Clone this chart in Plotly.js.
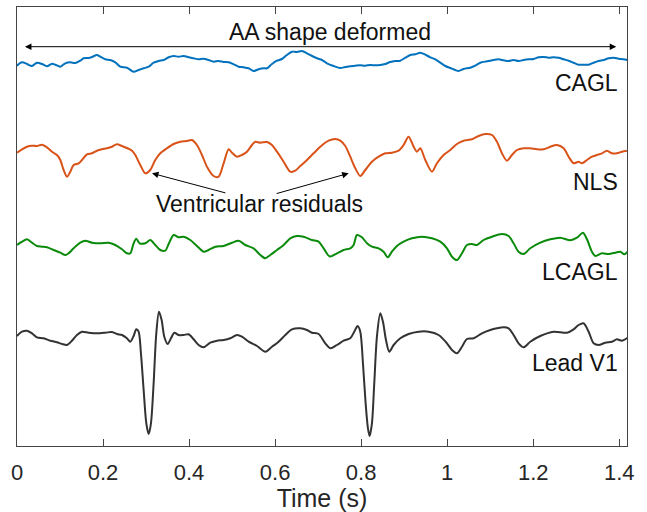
<!DOCTYPE html>
<html>
<head>
<meta charset="utf-8">
<script src="https://cdn.plot.ly/plotly-3.0.1.min.js"></script>
<style>html,body{margin:0;padding:0;background:#fff;}#chart{width:647px;height:512px;}</style>
</head>
<body>
<div id="chart"></div>
<script>
// Time axis ticks
var tickValues = [0, 0.2, 0.4, 0.6, 0.8, 1, 1.2, 1.4];
var tickLabels = ["0", "0.2", "0.4", "0.6", "0.8", "1", "1.2", "1.4"];
var seriesNames = ["CAGL", "NLS", "LCAGL", "Lead V1"];

// CAGL (stacked display units)
var tCAGL = [0,0.0116,0.0232,0.0348,0.0464,0.0580,0.0697,0.0813,0.0890,0.1007,0.1123,0.1239,0.1355,0.1471,0.1549,0.1665,0.1743,0.1859,0.1936,0.2053,0.2169,0.2285,0.2401,0.2556,0.2711,0.2827,0.2944,0.3060,0.3176,0.3292,0.3408,0.3525,0.3641,0.3757,0.3873,0.3990,0.4106,0.4222,0.4338,0.4454,0.4571,0.4687,0.4803,0.4919,0.5036,0.5152,0.5268,0.5384,0.5500,0.5617,0.5733,0.5810,0.5927,0.6043,0.6159,0.6275,0.6392,0.6508,0.6624,0.6740,0.6857,0.6973,0.7089,0.7205,0.7360,0.7515,0.7631,0.7748,0.7864,0.7980,0.8096,0.8212,0.8329,0.8445,0.8561,0.8677,0.8794,0.8910,0.9026,0.9142,0.9258,0.9375,0.9491,0.9607,0.9723,0.9840,0.9956,1.0072,1.0188,1.0266,1.0382,1.0537,1.0653,1.0769,1.0924,1.1079,1.1196,1.1312,1.1428,1.1544,1.1660,1.1777,1.1893,1.2009,1.2125,1.2242,1.2358,1.2474,1.2590,1.2707,1.2823,1.2939,1.3055,1.3171,1.3288,1.3404,1.3520,1.3636,1.3753,1.3869,1.3985,1.4101,1.4194];
var vCAGL = [380.3,383.7,382,380,383.3,382,379.7,382.3,381.3,379.3,382.7,383.7,383,385.3,387.7,388,389,391,389.3,386.7,386,383.7,379.3,378.3,374.3,376,377.7,379.3,383.3,385,386,388.7,390,389.3,390,388.7,387.7,386.7,387.3,386,384.3,385,384,383.7,381.7,379.3,378.7,377.7,375,376.7,377.7,377.7,382,385.3,387,391,394.3,394,395,392.7,390,387.7,386,382.7,380,378,379,379.7,380.3,380.7,380.3,381,380.7,381,382,384,385,385.3,388.3,391,391.7,393.3,391.3,388.7,386.7,383.3,380,378,376,375,377,378.3,380.3,383.3,384.7,386,386.7,385.7,385,386,385,386,386.7,387,388.7,389,388.3,388.7,388.3,386.7,385.3,383.3,381.3,381.3,381.3,383.3,385,386,387.7,388.3,387.3,386.7,386];

// NLS
var tNLS = [0,0.0116,0.0232,0.0348,0.0464,0.0580,0.0697,0.0813,0.0929,0.1007,0.1084,0.1162,0.1239,0.1316,0.1433,0.1510,0.1626,0.1743,0.1859,0.1975,0.2091,0.2208,0.2324,0.2440,0.2556,0.2673,0.2750,0.2866,0.2982,0.3098,0.3215,0.3331,0.3486,0.3641,0.3796,0.3951,0.4067,0.4183,0.4300,0.4416,0.4571,0.4687,0.4803,0.4919,0.4997,0.5113,0.5229,0.5346,0.5462,0.5539,0.5655,0.5810,0.5927,0.6043,0.6198,0.6353,0.6469,0.6585,0.6740,0.6895,0.7050,0.7244,0.7399,0.7515,0.7631,0.7748,0.7864,0.7980,0.8096,0.8251,0.8406,0.8561,0.8716,0.8871,0.8987,0.9103,0.9220,0.9297,0.9375,0.9491,0.9646,0.9762,0.9917,1.0072,1.0227,1.0382,1.0576,1.0731,1.0886,1.1041,1.1157,1.1273,1.1390,1.1506,1.1622,1.1777,1.1932,1.2087,1.2242,1.2397,1.2552,1.2707,1.2823,1.2939,1.3055,1.3133,1.3249,1.3365,1.3481,1.3598,1.3714,1.3830,1.3946,1.4062,1.4178];
var vNLS = [293.3,296.7,299.3,300.3,300,301.3,298.7,294.3,291,286,276,269.3,274.3,281,282.7,286,291.7,292.7,295.3,296.7,297.7,299.3,301.7,300,298,295.3,291,281,272.7,276,286,292.7,297.7,302,304.3,305,306,301,291,279.3,270,269.3,282.7,296.7,293.3,289.3,291,294.3,301,304.3,303.3,304,301,294.3,284.3,274.3,275.3,280,286,292.7,299.3,305.3,307,305.3,300,289.3,277.7,270,276,284.3,289.3,292.7,293.3,295.3,301,309.3,299.3,294.3,297.7,286,274.3,282.7,291,296,302,305.3,306.7,310,312,311,304.3,292.7,285.3,291,296,297.7,297.7,296.7,296.7,299.3,301,297.7,289.3,282.7,284.3,282.7,286,289.3,291,292.7,295.3,292.7,292.7,294.3,295.3];

// LCAGL
var tLCAGL = [0,0.0116,0.0232,0.0348,0.0464,0.0580,0.0697,0.0852,0.1007,0.1123,0.1200,0.1316,0.1471,0.1588,0.1743,0.1936,0.2130,0.2285,0.2440,0.2556,0.2634,0.2711,0.2773,0.2850,0.2982,0.3098,0.3215,0.3331,0.3447,0.3525,0.3641,0.3757,0.3873,0.4028,0.4183,0.4338,0.4454,0.4610,0.4803,0.4997,0.5152,0.5307,0.5500,0.5655,0.5772,0.5888,0.6043,0.6198,0.6353,0.6508,0.6663,0.6857,0.7012,0.7128,0.7270,0.7438,0.7593,0.7748,0.7825,0.7903,0.8019,0.8135,0.8251,0.8406,0.8522,0.8615,0.8716,0.8832,0.8987,0.9181,0.9414,0.9646,0.9840,0.9995,1.0111,1.0227,1.0343,1.0459,1.0576,1.0692,1.0847,1.1041,1.1273,1.1428,1.1544,1.1660,1.1777,1.1932,1.2164,1.2397,1.2629,1.2862,1.3017,1.3156,1.3249,1.3365,1.3443,1.3598,1.3753,1.3908,1.4024,1.4117,1.4194];
var vLCAGL = [201,204.3,206.7,203.3,200,199.3,198.7,196,193.3,191,192.7,197.7,203.3,205.3,203.3,202.7,203.3,201,196.7,192.7,192.7,202.7,207.3,202.7,202.7,206,201,196,195.3,202,211,208.7,209.3,206,200,194.3,196,199.3,200,203.3,205.3,201,197.7,191,187.7,191,196,201,207.7,210,209.3,206,204.3,197.7,189.5,192.7,196,197.7,201,211,208.7,202.7,199.3,197.7,194.3,188.7,194.3,200,204.3,207.7,209.3,207.7,204.3,197.7,189.3,186,192.7,201,202,201,206,209.3,212,210,202.7,194.3,192,197.7,203.3,206.7,208.3,205.7,208.3,213.3,206.7,194.3,190,192.7,192,193.3,194.3,191.7,194.3];

// Lead V1
var tV1 = [0,0.0116,0.0232,0.0348,0.0464,0.0619,0.0774,0.0929,0.1046,0.1162,0.1278,0.1394,0.1510,0.1665,0.1859,0.2053,0.2208,0.2324,0.2440,0.2556,0.2634,0.2711,0.2773,0.2827,0.2881,0.2944,0.3006,0.3060,0.3114,0.3176,0.3238,0.3300,0.3362,0.3424,0.3502,0.3579,0.3657,0.3757,0.3873,0.3990,0.4106,0.4222,0.4338,0.4493,0.4648,0.4803,0.4958,0.5113,0.5229,0.5384,0.5578,0.5772,0.5927,0.6082,0.6237,0.6392,0.6585,0.6740,0.6857,0.7012,0.7166,0.7283,0.7438,0.7593,0.7748,0.7840,0.7918,0.7980,0.8042,0.8104,0.8158,0.8197,0.8251,0.8305,0.8367,0.8445,0.8507,0.8577,0.8654,0.8755,0.8910,0.9103,0.9336,0.9568,0.9801,0.9995,1.0111,1.0227,1.0343,1.0459,1.0615,1.0808,1.1002,1.1157,1.1312,1.1428,1.1544,1.1660,1.1777,1.1932,1.2164,1.2474,1.2785,1.2939,1.3055,1.3171,1.3288,1.3404,1.3520,1.3675,1.3830,1.3946,1.4062,1.4194];
var vV1 = [110,114.3,115.3,112.7,108.7,107.7,105.3,103.7,102,101,105.3,111,114.3,113.3,112.7,113.3,114,112,111,107.7,104.3,110,116.7,114.3,92.7,56,22.7,12,22.7,62.7,112.7,134.3,126,109.3,102,107.7,113.3,111,111,111.7,106.7,101,98.7,103.3,105.3,106,107.7,111,109.3,104.3,100,94.3,99.3,104.3,111,116.7,117.7,116,113.3,112,102.7,97.7,101,105.3,107.7,114.3,120,114.3,82.7,42.7,17.7,10,22.7,62.7,109.3,132.7,124.3,106,94.3,101,107.7,112,114.3,114.3,111,102.7,96,92.7,99.3,107,107.7,112.7,116,117.7,118.7,117.7,111,102.7,98.7,104.3,110,114.3,113.3,116.7,121,122.7,114.3,102.7,101,103.3,104.3,106.7,105.3,108.3];

var colors = ["#0072BD", "#D95319", "#0a8a0a", "#333333"];
var xs = [tCAGL, tNLS, tLCAGL, tV1];
var ys = [vCAGL, vNLS, vLCAGL, vV1];

var traces = seriesNames.map(function (name, i) {
  return {
    x: xs[i], y: ys[i], name: name, type: "scatter", mode: "lines",
    line: {color: colors[i], width: 2, shape: "spline", smoothing: 0.8},
    hoverinfo: "skip"
  };
});

var FONT = "'Liberation Sans', Arial, Helvetica, sans-serif";
var txt = {family: FONT, size: 23, color: "#111111"};

// Label positions (time, display units)
var labelX = [1.4024, 1.4024, 1.4024, 1.4024];
var labelY = [363.3, 264.3, 174.3, 83.3];

var annotations = seriesNames.map(function (name, i) {
  return {x: labelX[i], y: labelY[i], xref: "x", yref: "y", text: name,
          showarrow: false, xanchor: "right", yanchor: "middle", font: txt};
});

annotations.push({x: 0.728, y: 414, xref: "x", yref: "y", text: "AA shape deformed",
  showarrow: false, xanchor: "center", yanchor: "middle", font: txt});
annotations.push({x: 1.393, y: 399.3, ax: 0.015, ay: 399.3, xref: "x", yref: "y", axref: "x", ayref: "y",
  text: "", showarrow: true, arrowhead: 2, startarrowhead: 2, arrowside: "end+start",
  arrowsize: 1.3, startarrowsize: 1.3, arrowwidth: 1, arrowcolor: "#000000"});
annotations.push({x: 0.564, y: 242, xref: "x", yref: "y", text: "Ventricular residuals",
  showarrow: false, xanchor: "center", yanchor: "middle", font: txt});
annotations.push({x: 0.3138, y: 272.7, ax: 0.488, ay: 252.7, xref: "x", yref: "y", axref: "x", ayref: "y",
  text: "", showarrow: true, arrowhead: 2, arrowsize: 1.3, arrowwidth: 1, arrowcolor: "#000000"});
annotations.push({x: 0.771, y: 272.7, ax: 0.600, ay: 252, xref: "x", yref: "y", axref: "x", ayref: "y",
  text: "", showarrow: true, arrowhead: 2, arrowsize: 1.3, arrowwidth: 1, arrowcolor: "#000000"});

var layout = {
  width: 647, height: 512,
  margin: {l: 17, r: 20, t: 7, b: 66, pad: 0},
  paper_bgcolor: "#ffffff", plot_bgcolor: "#ffffff",
  showlegend: false,
  font: {family: FONT, size: 22, color: "#262626"},
  xaxis: {
    range: [0, 1.418], tickvals: tickValues, ticktext: tickLabels,
    ticks: "inside", ticklen: 7, tickwidth: 1, tickcolor: "#444444",
    showline: true, linecolor: "#444444", linewidth: 1, mirror: "ticks",
    showgrid: false, zeroline: false, ticklabelstandoff: 7,
    tickfont: {family: FONT, size: 22, color: "#262626"},
    title: {text: "Time (s)", font: {family: FONT, size: 25, color: "#262626"}, standoff: 5}
  },
  yaxis: {
    range: [0, 439], showticklabels: false, ticks: "",
    showline: true, linecolor: "#444444", linewidth: 1, mirror: true,
    showgrid: false, zeroline: false
  },
  annotations: annotations
};

Plotly.newPlot("chart", traces, layout, {displayModeBar: false, staticPlot: true});
</script>
</body>
</html>
